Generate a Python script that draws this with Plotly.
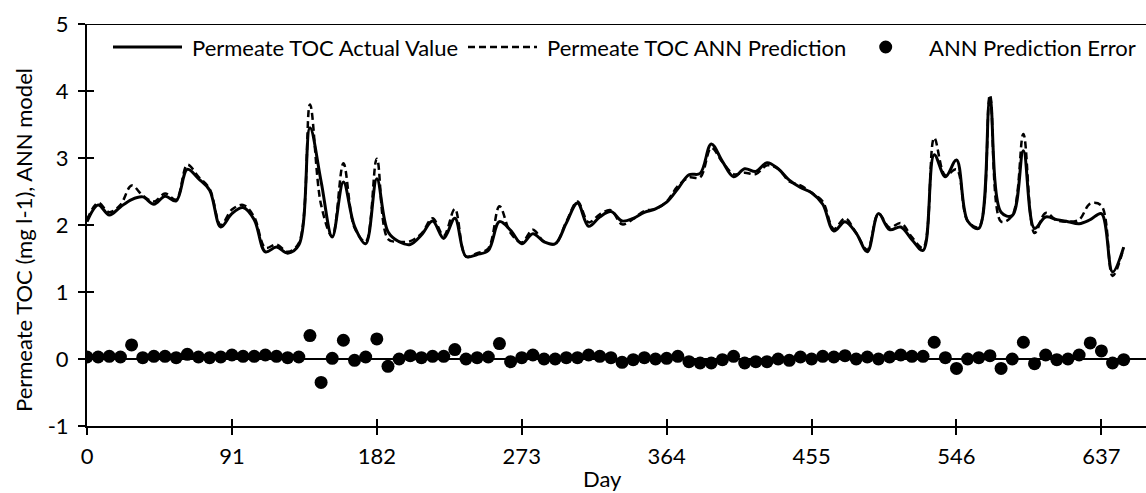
import plotly.graph_objects as go

days = [0, 7, 14, 21, 28, 35, 42, 49, 56, 63,
        70, 77, 84, 91, 98, 105, 112, 119, 126, 133,
        140, 147, 154, 161, 168, 175, 182, 189, 196, 203,
        210, 217, 224, 231, 238, 245, 252, 259, 266, 273,
        280, 287, 294, 301, 308, 315, 322, 329, 336, 343,
        350, 357, 364, 371, 378, 385, 392, 399, 406, 413,
        420, 427, 434, 441, 448, 455, 462, 469, 476, 483,
        490, 497, 504, 511, 518, 525, 532, 539, 546, 553,
        560, 567, 574, 581, 588, 595, 602, 609, 616, 623,
        630, 637, 644, 651]

actual = [2.05, 2.30, 2.15, 2.27, 2.38, 2.42, 2.31, 2.43, 2.36, 2.83,
          2.69, 2.52, 1.97, 2.17, 2.26, 2.08, 1.60, 1.67, 1.58, 1.70,
          3.45, 2.65, 1.82, 2.64, 1.98, 1.72, 2.69, 1.90, 1.75, 1.71,
          1.85, 2.06, 1.80, 2.10, 1.53, 1.56, 1.62, 2.05, 1.92, 1.72,
          1.87, 1.75, 1.72, 2.03, 2.33, 1.98, 2.12, 2.20, 2.06, 2.10,
          2.19, 2.24, 2.34, 2.54, 2.75, 2.77, 3.21, 2.95, 2.72, 2.84,
          2.80, 2.93, 2.84, 2.67, 2.56, 2.48, 2.31, 1.91, 2.05, 1.88,
          1.60, 2.17, 1.93, 1.97, 1.78, 1.62, 3.05, 2.72, 2.97, 2.06,
          1.95, 3.89, 2.19, 2.14, 3.11, 1.95, 2.12, 2.08, 2.05, 2.02,
          2.08, 2.17, 1.30, 1.67]

predicted = [2.08, 2.33, 2.19, 2.30, 2.59, 2.44, 2.35, 2.47, 2.38, 2.90,
             2.72, 2.54, 2.00, 2.23, 2.30, 2.12, 1.66, 1.71, 1.60, 1.73,
             3.80, 2.30, 1.83, 2.92, 1.96, 1.75, 2.99, 1.79, 1.75, 1.76,
             1.87, 2.10, 1.84, 2.24, 1.53, 1.58, 1.65, 2.28, 1.88, 1.74,
             1.93, 1.75, 1.72, 2.05, 2.35, 2.04, 2.16, 2.22, 2.01, 2.09,
             2.21, 2.24, 2.35, 2.58, 2.71, 2.71, 3.15, 2.94, 2.76, 2.78,
             2.76, 2.89, 2.84, 2.65, 2.59, 2.48, 2.35, 1.94, 2.10, 1.88,
             1.63, 2.17, 1.96, 2.03, 1.82, 1.66, 3.30, 2.74, 2.83, 2.06,
             1.97, 3.94, 2.05, 2.14, 3.36, 1.88, 2.18, 2.07, 2.05, 2.08,
             2.32, 2.29, 1.24, 1.66]

error = [0.03, 0.03, 0.04, 0.03, 0.21, 0.02, 0.04, 0.04, 0.02, 0.07,
         0.03, 0.02, 0.03, 0.06, 0.04, 0.04, 0.06, 0.04, 0.02, 0.03,
         0.35, -0.35, 0.01, 0.28, -0.02, 0.03, 0.30, -0.11, 0.00, 0.05,
         0.02, 0.04, 0.04, 0.14, 0.00, 0.02, 0.03, 0.23, -0.04, 0.02,
         0.06, 0.00, 0.00, 0.02, 0.02, 0.06, 0.04, 0.02, -0.05, -0.01,
         0.02, 0.00, 0.01, 0.04, -0.04, -0.06, -0.06, -0.01, 0.04, -0.06,
         -0.04, -0.04, 0.00, -0.02, 0.03, 0.00, 0.04, 0.03, 0.05, 0.00,
         0.03, 0.00, 0.03, 0.06, 0.04, 0.04, 0.25, 0.02, -0.14, 0.00,
         0.02, 0.05, -0.14, 0.00, 0.25, -0.07, 0.06, -0.01, 0.00, 0.06,
         0.24, 0.12, -0.06, -0.01]

x_ticks = [0, 91, 182, 273, 364, 455, 546, 637]
y_ticks = [-1, 0, 1, 2, 3, 4, 5]
y_tick_labels = ["-1", "0", "1", "2", "3", "4", "5"]

legend_names = ["Permeate TOC Actual Value", "Permeate TOC ANN Prediction", "ANN Prediction Error"]

FONT = "Lato, 'Open Sans', sans-serif"
FS = 22
X_RANGE = [0, 665]
Y_RANGE = [-1, 5]

fig = go.Figure()
fig.add_trace(go.Scatter(x=days, y=actual, mode="lines", name=legend_names[0],
                         line=dict(color="black", width=3, shape="spline", smoothing=1),
                         showlegend=False))
fig.add_trace(go.Scatter(x=days, y=predicted, mode="lines", name=legend_names[1],
                         line=dict(color="black", width=2.5, dash="7px,4px", shape="spline", smoothing=1),
                         showlegend=False))
fig.add_trace(go.Scatter(x=days, y=error, mode="markers", name=legend_names[2],
                         marker=dict(color="black", size=13),
                         showlegend=False))
# helper trace for the inner half of the crossing ticks
fig.add_trace(go.Scatter(x=[0], y=[0], xaxis="x2", yaxis="y2", mode="markers",
                         marker=dict(opacity=0), hoverinfo="skip", showlegend=False))

W, H = 1146, 493
ML, MR, MT, MB = 87, 0, 24, 67
pw, ph = W - ML - MR, H - MT - MB

def px2x(px):
    return (px - ML) / pw

def py2y(py):
    return (H - MB - py) / ph

fig.update_layout(
    width=W, height=H,
    margin=dict(l=ML, r=MR, t=MT, b=MB, pad=0),
    paper_bgcolor="white", plot_bgcolor="white",
    font=dict(family=FONT, size=FS, color="black"),
    showlegend=False,
    xaxis=dict(range=X_RANGE, tickvals=x_ticks, ticktext=[str(v) for v in x_ticks],
               showgrid=False, zeroline=False, showline=True, linecolor="black", linewidth=2,
               ticks="outside", ticklen=7, tickwidth=2, tickcolor="black",
               ticklabelstandoff=3, tickfont=dict(family=FONT, size=FS)),
    yaxis=dict(range=Y_RANGE, tickvals=y_ticks, ticktext=y_tick_labels,
               showgrid=False, zeroline=True, zerolinecolor="black", zerolinewidth=1.5,
               showline=True, linecolor="black", linewidth=2,
               ticks="outside", ticklen=7, tickwidth=2, tickcolor="black",
               ticklabelstandoff=5, tickfont=dict(family=FONT, size=FS)),
    xaxis2=dict(range=X_RANGE, overlaying="x", anchor="y", side="bottom",
                tickvals=x_ticks, showticklabels=False, showgrid=False, zeroline=False,
                showline=False, ticks="inside", ticklen=7, tickwidth=2, tickcolor="black"),
    yaxis2=dict(range=Y_RANGE, overlaying="y", anchor="x", side="left",
                tickvals=y_ticks, showticklabels=False, showgrid=False, zeroline=False,
                showline=False, ticks="inside", ticklen=7, tickwidth=2, tickcolor="black"),
)

# top border line at y = 5
fig.add_shape(type="line", xref="paper", yref="y", x0=0, x1=1, y0=5, y1=5,
              line=dict(color="black", width=2))

# custom legend (long line samples as in the original)
ly = py2y(47)
fig.add_shape(type="line", xref="paper", yref="paper", x0=px2x(113), x1=px2x(182), y0=ly, y1=ly,
              line=dict(color="black", width=3))
fig.add_shape(type="line", xref="paper", yref="paper", x0=px2x(468), x1=px2x(537), y0=ly, y1=ly,
              line=dict(color="black", width=2.5, dash="7px,4px"))
r = 6.5
fig.add_shape(type="circle", xref="paper", yref="paper",
              x0=px2x(885.7 - r), x1=px2x(885.7 + r), y0=py2y(47 + r), y1=py2y(47 - r),
              fillcolor="black", line=dict(color="black", width=0))
for name, xs in zip(legend_names, [190, 545, 927]):
    fig.add_annotation(text=name, xref="paper", yref="paper", x=px2x(xs), y=ly,
                       xanchor="left", yanchor="middle", showarrow=False,
                       font=dict(family=FONT, size=FS, color="black"))

# axis titles
fig.add_annotation(text="Permeate TOC (mg l-1), ANN model", xref="paper", yref="paper",
                   x=px2x(23), y=py2y(240), textangle=-90, showarrow=False,
                   xanchor="center", yanchor="middle", font=dict(family=FONT, size=FS, color="black"))
fig.add_annotation(text="Day", xref="paper", yref="paper", x=px2x(602), y=py2y(478),
                   showarrow=False, xanchor="center", yanchor="middle",
                   font=dict(family=FONT, size=FS, color="black"))

fig.write_html("out.html", config={"displayModeBar": False},
               post_script="document.body.style.margin='0';document.body.style.overflow='hidden';")
